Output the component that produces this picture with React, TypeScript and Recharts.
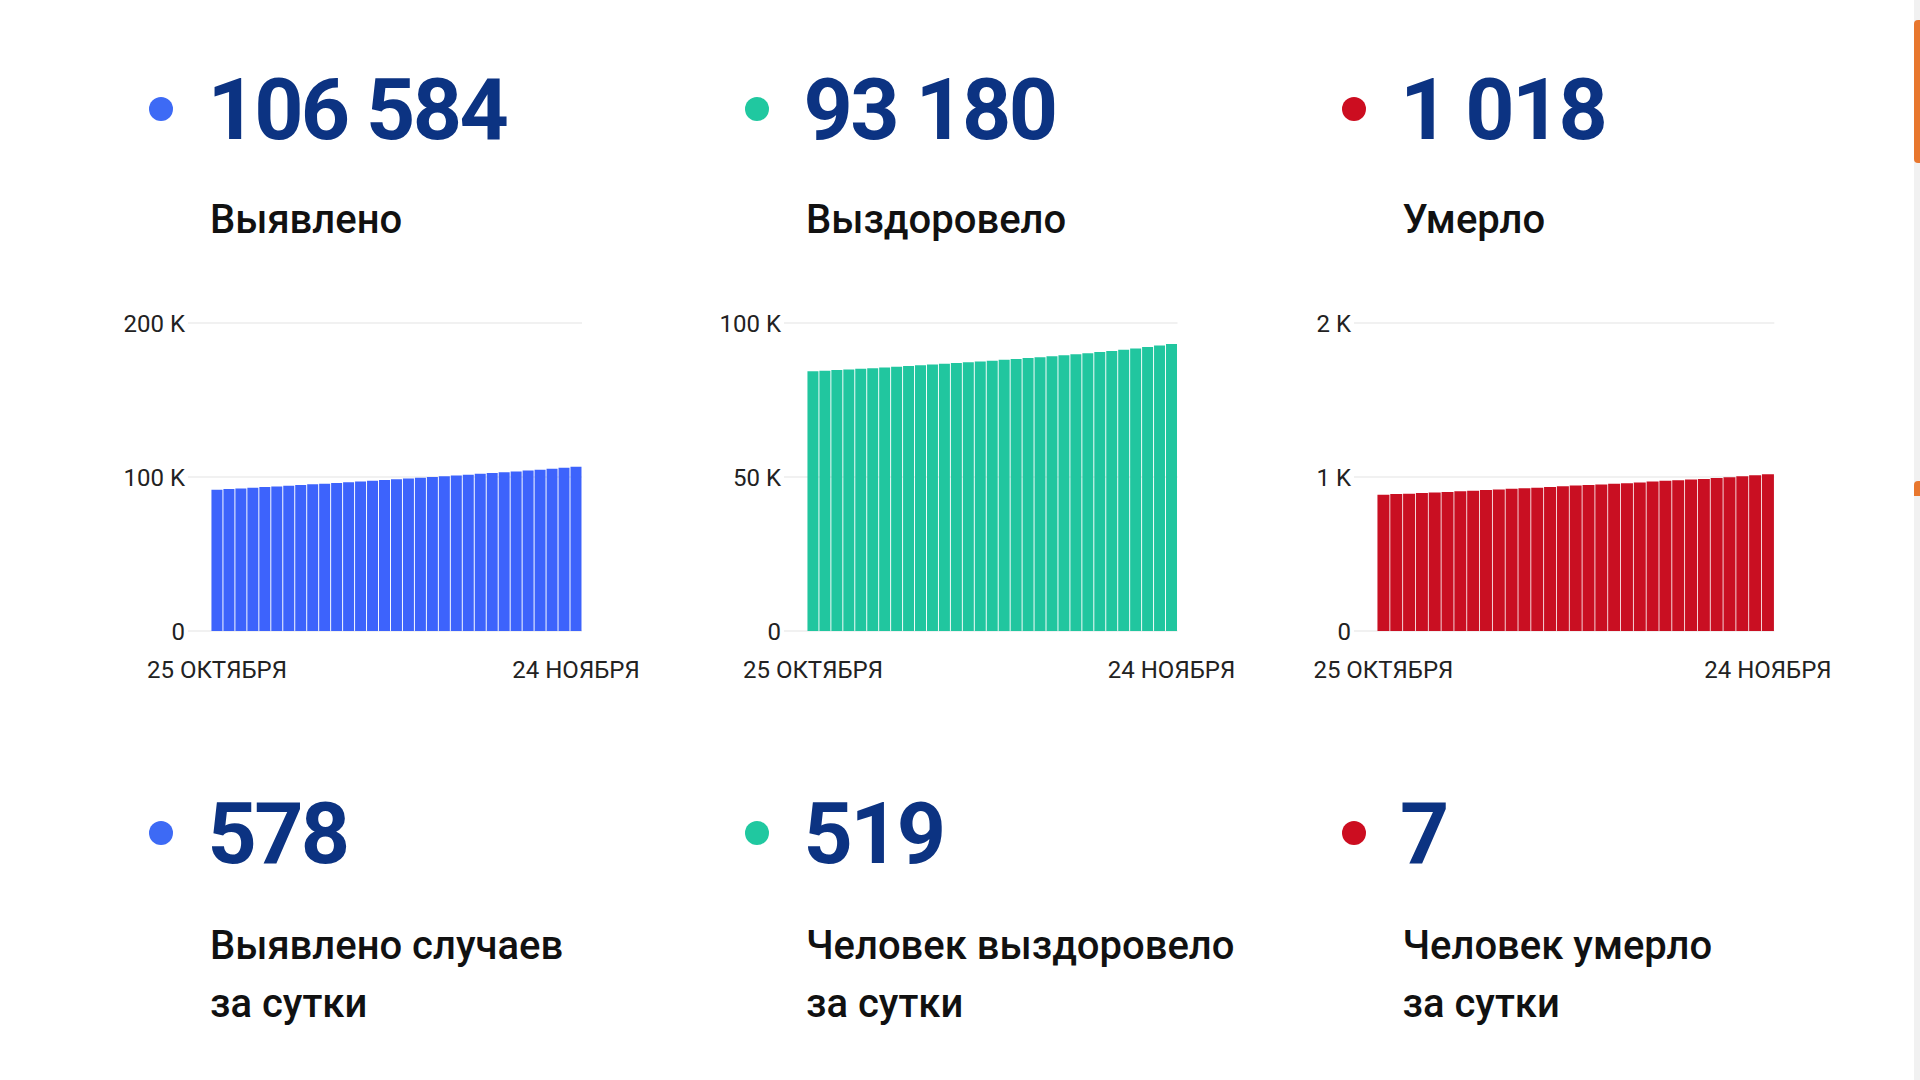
import React from "react";
import { BarChart, Bar, XAxis, YAxis, CartesianGrid } from "recharts";

const dates = [
  "25 ОКТЯБРЯ", "26 ОКТЯБРЯ", "27 ОКТЯБРЯ", "28 ОКТЯБРЯ", "29 ОКТЯБРЯ", "30 ОКТЯБРЯ", "31 ОКТЯБРЯ",
  "1 НОЯБРЯ", "2 НОЯБРЯ", "3 НОЯБРЯ", "4 НОЯБРЯ", "5 НОЯБРЯ", "6 НОЯБРЯ", "7 НОЯБРЯ", "8 НОЯБРЯ",
  "9 НОЯБРЯ", "10 НОЯБРЯ", "11 НОЯБРЯ", "12 НОЯБРЯ", "13 НОЯБРЯ", "14 НОЯБРЯ", "15 НОЯБРЯ", "16 НОЯБРЯ",
  "17 НОЯБРЯ", "18 НОЯБРЯ", "19 НОЯБРЯ", "20 НОЯБРЯ", "21 НОЯБРЯ", "22 НОЯБРЯ", "23 НОЯБРЯ", "24 НОЯБРЯ",
];

const detected = [
  91700, 92130, 92560, 93000, 93440, 93880, 94330,
  94780, 95235, 95690, 96150, 96615, 97085, 97560, 98040,
  98525, 99015, 99510, 100010, 100515, 101025, 101540, 102060,
  102585, 103115, 103650, 104190, 104740, 105295, 106006, 106584,
];

const recovered = [
  84315, 84510, 84710, 84915, 85125, 85340, 85560,
  85785, 86015, 86250, 86490, 86735, 86985, 87240, 87500,
  87765, 88040, 88320, 88610, 88910, 89220, 89540, 89870,
  90215, 90570, 90940, 91330, 91740, 92180, 92661, 93180,
];

const died = [
  885, 889, 892, 896, 899, 903, 907,
  911, 915, 919, 923, 927, 931, 935, 940,
  944, 948, 952, 956, 960, 965, 970, 975,
  979, 983, 987, 993, 999, 1005, 1011, 1018,
];

const detectedTicks = [0, 100000, 200000];
const recoveredTicks = [0, 50000, 100000];
const diedTicks = [0, 1000, 2000];
const xTicks = [dates[0], dates[dates.length - 1]];

const totals = ["106 584", "93 180", "1 018"];
const totalLabels = ["Выявлено", "Выздоровело", "Умерло"];
const daily = ["578", "519", "7"];
const dailyLabels = [
  ["Выявлено случаев", "за сутки"],
  ["Человек выздоровело", "за сутки"],
  ["Человек умерло", "за сутки"],
];

const COLORS = ["#3d63fc", "#21c69f", "#c90f22"];
const DOTS = ["#3d6af5", "#20c8a0", "#cc0d20"];
const NAVY = "#0c3382";
const FONT = "Roboto, 'Noto Sans', sans-serif";

const fmtK = (v: number) => (v === 0 ? "0" : `${v / 1000} K`);

type ChartProps = {
  values: number[];
  ticks: number[];
  color: string;
  left: number;
  yWidth: number;
  plotWidth: number;
};

const TOP = 303;
const MARGIN_TOP = 20;
const PLOT_HEIGHT = 308;
const X_HEIGHT = 60;
const MARGIN_RIGHT = 72;

function MiniChart({ values, ticks, color, left, yWidth, plotWidth }: ChartProps) {
  const data = dates.map((d, i) => ({ date: d, value: values[i] }));
  const width = yWidth + plotWidth + MARGIN_RIGHT;
  const height = MARGIN_TOP + PLOT_HEIGHT + X_HEIGHT;
  return (
    <div style={{ position: "absolute", left, top: TOP, width, height }}>
      <BarChart
        width={width}
        height={height}
        data={data}
        margin={{ top: MARGIN_TOP, right: MARGIN_RIGHT, bottom: 0, left: 0 }}
        barCategoryGap={0.45}
      >
        <CartesianGrid vertical={false} stroke="#ececec" strokeWidth={1.5} />
        <XAxis
          dataKey="date"
          ticks={xTicks}
          interval={0}
          axisLine={false}
          tickLine={false}
          tickSize={0}
          tickMargin={30}
          height={X_HEIGHT}
          padding={{ left: 23, right: 0 }}
          tick={{ fill: "#222", fontSize: 24, fontFamily: FONT }}
        />
        <YAxis
          width={yWidth}
          domain={[ticks[0], ticks[ticks.length - 1]]}
          ticks={ticks}
          interval={0}
          axisLine={false}
          tickLine={false}
          tickSize={0}
          tickMargin={3}
          tickFormatter={fmtK}
          tick={{ fill: "#222", fontSize: 24, fontFamily: FONT }}
        />
        <Bar dataKey="value" fill={color} isAnimationActive={false} />
      </BarChart>
    </div>
  );
}

const colLeft = [210.5, 806.5, 1403];
const dotX = [160.5, 757, 1354];

export default function App() {
  return (
    <div
      style={{
        position: "absolute",
        left: 0,
        top: 0,
        width: 1920,
        height: 1080,
        background: "#ffffff",
        overflow: "hidden",
        fontFamily: FONT,
      }}
    >
      {/* scrollbar decoration */}
      <div style={{ position: "absolute", left: 1914, top: 0, width: 6, height: 1080, background: "#f1f1f1" }} />
      <div style={{ position: "absolute", left: 1914, top: 20, width: 6, height: 143, background: "#e8772e", borderRadius: "4px 0 0 4px" }} />
      <div style={{ position: "absolute", left: 1914, top: 481, width: 6, height: 15, background: "#e8772e", borderRadius: "4px 0 0 0" }} />

      {[0, 1, 2].map((i) => (
        <React.Fragment key={i}>
          <div
            style={{
              position: "absolute",
              left: dotX[i] - 12,
              top: 109 - 12,
              width: 24,
              height: 24,
              borderRadius: 12,
              background: DOTS[i],
            }}
          />
          <div
            style={{
              position: "absolute",
              left: colLeft[i] - 3,
              top: 67,
              fontSize: 86,
              lineHeight: 1,
              fontWeight: 700,
              color: NAVY,
              letterSpacing: -2.7,
              whiteSpace: "nowrap",
            }}
          >
            {totals[i]}
          </div>
          <div
            style={{
              position: "absolute",
              left: colLeft[i] - 0.5,
              top: 200,
              fontSize: 40,
              lineHeight: 1,
              fontWeight: 500,
              color: "#111",
              whiteSpace: "nowrap",
            }}
          >
            {totalLabels[i]}
          </div>

          <div
            style={{
              position: "absolute",
              left: dotX[i] - 12,
              top: 833 - 12,
              width: 24,
              height: 24,
              borderRadius: 12,
              background: DOTS[i],
            }}
          />
          <div
            style={{
              position: "absolute",
              left: colLeft[i] - 3,
              top: 791,
              fontSize: 86,
              lineHeight: 1,
              fontWeight: 700,
              color: NAVY,
              letterSpacing: -2.7,
              whiteSpace: "nowrap",
            }}
          >
            {daily[i]}
          </div>
          <div
            style={{
              position: "absolute",
              left: colLeft[i] - 0.5,
              top: 917,
              fontSize: 40,
              lineHeight: "58px",
              fontWeight: 500,
              color: "#111",
              whiteSpace: "nowrap",
            }}
          >
            {dailyLabels[i][0]}
            <br />
            {dailyLabels[i][1]}
          </div>
        </React.Fragment>
      ))}

      <MiniChart values={detected} ticks={detectedTicks} color={COLORS[0]} left={117.5} yWidth={70} plotWidth={394} />
      <MiniChart values={recovered} ticks={recoveredTicks} color={COLORS[1]} left={714} yWidth={70} plotWidth={393.5} />
      <MiniChart values={died} ticks={diedTicks} color={COLORS[2]} left={1314.3} yWidth={40} plotWidth={420.3} />
    </div>
  );
}
